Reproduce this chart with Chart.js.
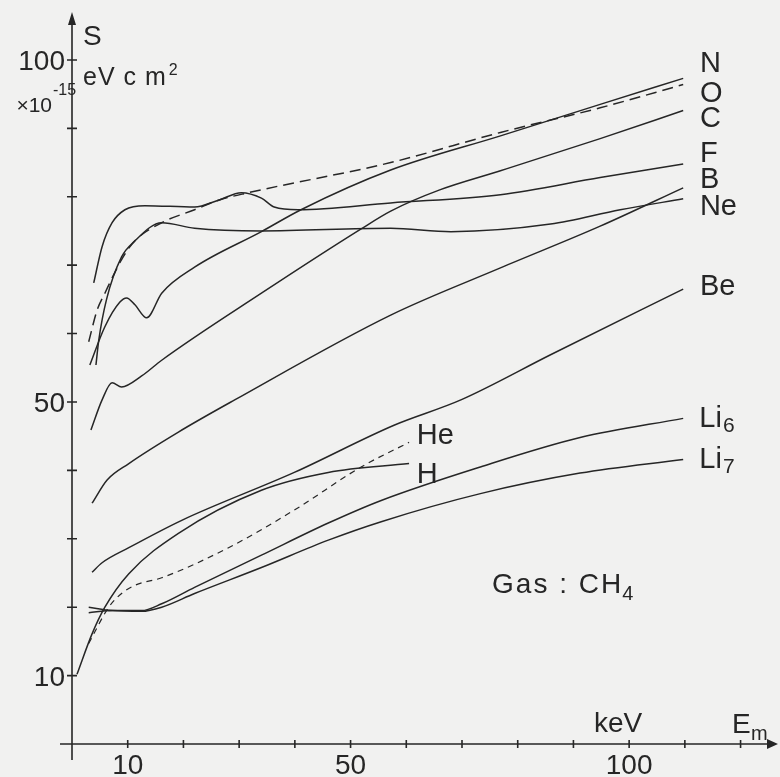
<!DOCTYPE html>
<html>
  <head>
    <meta charset="utf-8">
    <script src="https://cdn.jsdelivr.net/npm/chart.js"></script>
    <style>
      html, body {
        margin: 0;
        padding: 0;
        background: #f1f1f0;
      }
      #chart {
        display: block;
      }
    </style>
  </head>
  <body>
    <canvas id="chart" width="780" height="777"></canvas>

    <script>
      // tick labels
      var xTicks = [10, 50, 100];
      var yTicks = [10, 50, 100];

      // E_m in keV, S in 1e-15 eV cm2
      var nE = [3.2, 5.9, 8.6, 9.8, 11.3, 13.4, 16.1, 22.0, 34.0, 41.1, 57.2, 76.9, 94.8, 109.7];
      var nS = [55.4, 61.0, 64.6, 65.2, 64.2, 62.3, 65.9, 69.7, 74.9, 78.1, 83.9, 88.9, 93.5, 97.3];

      var oE = [3.0, 4.5, 5.9, 8.9, 11.1, 16.1, 22.0, 26.3, 31.7, 57.2, 76.9, 94.8, 109.7];
      var oS = [58.8, 63.4, 65.9, 70.8, 73.4, 76.2, 78.1, 79.5, 80.6, 85.0, 89.4, 93.0, 96.4];

      var cE = [3.4, 5.4, 7.2, 8.9, 12.5, 16.1, 34.0, 51.9, 57.2, 66.0, 76.9, 94.8, 109.7];
      var cS = [45.9, 50.3, 52.8, 52.2, 53.8, 56.1, 65.9, 75.3, 77.9, 81.0, 83.8, 88.5, 92.6];

      var fE = [3.9, 5.4, 7.2, 9.5, 13.1, 22.0, 26.3, 30.4, 34.0, 36.3, 40.6, 57.2, 76.9, 94.8, 109.7];
      var fS = [67.4, 72.7, 76.2, 78.1, 78.7, 78.5, 79.5, 80.6, 79.8, 78.5, 78.1, 79.1, 80.3, 82.8, 84.8];

      var bE = [3.6, 6.3, 10.2, 19.1, 29.2, 57.2, 76.9, 94.8, 109.7];
      var bS = [35.2, 38.6, 41.0, 45.6, 50.3, 62.7, 69.6, 75.7, 81.3];

      var neE = [4.3, 4.8, 6.2, 8.9, 11.1, 16.1, 22.0, 34.0, 57.2, 68.0, 85.9, 98.4, 109.7];
      var neS = [55.4, 59.0, 65.0, 71.2, 73.4, 76.2, 75.4, 75.0, 75.4, 74.9, 76.0, 78.1, 79.7];

      var beE = [3.6, 5.4, 10.2, 19.7, 39.9, 57.8, 69.8, 85.9, 109.7];
      var beS = [25.1, 26.5, 28.7, 32.7, 39.7, 46.6, 50.3, 56.9, 66.5];

      var liE = [3.0, 7.2, 12.5, 16.1, 22.0, 34.0, 46.0, 55.5, 73.3, 91.2, 109.7];
      var li6S = [19.2, 19.5, 19.5, 20.5, 22.9, 27.6, 32.3, 35.6, 40.5, 44.8, 47.6];
      var li7S = [20.0, 19.5, 19.4, 20.0, 22.0, 25.8, 29.8, 32.5, 36.6, 39.6, 41.6];

      var heE = [3.0, 6.6, 8.9, 11.3, 16.1, 28.1, 39.9, 51.9, 60.5];
      var heS = [14.7, 20.0, 22.0, 23.2, 24.3, 28.7, 34.2, 40.5, 44.1];

      var hE = [0.9, 3.6, 5.9, 10.2, 19.1, 34.0, 46.0, 60.5];
      var hS = [10.2, 16.1, 20.0, 24.9, 30.8, 37.1, 39.7, 41.0];

      var ink = '#262626';
      var face = '"Liberation Sans", Arial, sans-serif';

      function series(name, xs, ys, dash, width) {
        return {
          label: name,
          data: xs.map(function(x, i) { return { x: x, y: ys[i] }; }),
          borderColor: ink,
          borderWidth: width || 1.5,
          borderDash: dash || [],
          pointRadius: 0,
          fill: false,
          cubicInterpolationMode: 'monotone'
        };
      }

      function write(ctx, s, x, y, size, align) {
        ctx.font = size + 'px ' + face;
        ctx.textAlign = align || 'left';
        ctx.fillText(s, x, y);
        return ctx.measureText(s).width;
      }

      // axes with crossing ticks and arrow heads, plus all the lettering
      var paperPlugin = {
        id: 'paper',
        afterDraw: function(chart) {
          var ctx = chart.ctx;
          var xs = chart.scales.x, ys = chart.scales.y;
          var x0 = xs.getPixelForValue(0), y0 = ys.getPixelForValue(0);
          ctx.save();
          ctx.strokeStyle = ink;
          ctx.fillStyle = ink;
          ctx.lineWidth = 1.6;
          ctx.textBaseline = 'alphabetic';

          ctx.beginPath();
          ctx.moveTo(x0 - 12, y0);
          ctx.lineTo(xs.right, y0);
          ctx.moveTo(x0, y0 + 16);
          ctx.lineTo(x0, ys.top + 8);
          xs.ticks.forEach(function(t) {
            if (t.value <= 0) return;
            var p = xs.getPixelForValue(t.value);
            ctx.moveTo(p, y0 - 4);
            ctx.lineTo(p, y0 + 4);
          });
          ys.ticks.forEach(function(t) {
            if (t.value <= 0) return;
            var p = ys.getPixelForValue(t.value);
            ctx.moveTo(x0 - 5, p);
            ctx.lineTo(x0 + 5, p);
          });
          ctx.stroke();

          // arrow heads
          ctx.beginPath();
          ctx.moveTo(x0, ys.top + 2);
          ctx.lineTo(x0 - 4, ys.top + 15);
          ctx.lineTo(x0 + 4, ys.top + 15);
          ctx.closePath();
          ctx.moveTo(xs.right + 4, y0);
          ctx.lineTo(xs.right - 7, y0 - 5);
          ctx.lineTo(xs.right - 7, y0 + 5);
          ctx.closePath();
          ctx.fill();

          // tick labels
          xTicks.forEach(function(v) {
            write(ctx, String(v), xs.getPixelForValue(v), y0 + 30, 28, 'center');
          });
          yTicks.forEach(function(v) {
            write(ctx, String(v), x0 - 7, ys.getPixelForValue(v) + 10, 28, 'right');
          });

          // y axis title and unit
          write(ctx, 'S', x0 + 11, 45, 28);
          ctx.letterSpacing = '1px';
          var w = write(ctx, 'eV c m', x0 + 11, 85, 25);
          ctx.letterSpacing = '0px';
          write(ctx, '2', x0 + 13 + w, 75, 16);
          write(ctx, '\u00d710', x0 - 20, 112, 21, 'right');
          write(ctx, '-15', x0 - 19, 95, 16);

          // x axis title and unit
          write(ctx, 'keV', xs.getPixelForValue(100) + 13, y0 - 12, 28, 'right');
          write(ctx, 'E', xs.right - 42, y0 - 11, 28);
          write(ctx, 'm', xs.right - 23, y0 - 4, 20);

          // curve names, anchored at their baseline in data units
          var names = [
            ['N', 112.7, 98.2], ['O', 112.7, 93.8], ['C', 112.7, 90.2],
            ['F', 112.7, 85.1], ['B', 112.7, 81.3], ['Ne', 112.7, 77.3],
            ['Be', 112.7, 65.6], ['He', 61.9, 43.9], ['H', 61.9, 38.2]
          ];
          names.forEach(function(n) {
            write(ctx, n[0], xs.getPixelForValue(n[1]), ys.getPixelForValue(n[2]), 29);
          });
          var lx = xs.getPixelForValue(112.6);
          w = write(ctx, 'Li', lx, ys.getPixelForValue(46.3), 29);
          write(ctx, '6', lx + w + 1, ys.getPixelForValue(46.3) + 5, 21);
          w = write(ctx, 'Li', lx, ys.getPixelForValue(40.4), 29);
          write(ctx, '7', lx + w + 1, ys.getPixelForValue(40.4) + 5, 21);

          // gas label
          ctx.letterSpacing = '2px';
          w = write(ctx, 'Gas : CH', xs.getPixelForValue(75.4), ys.getPixelForValue(22.1), 28);
          ctx.letterSpacing = '0px';
          write(ctx, '4', xs.getPixelForValue(75.4) + w - 1, ys.getPixelForValue(22.1) + 7, 20);
          ctx.restore();
        }
      };

      new Chart(document.getElementById('chart').getContext('2d'), {
        type: 'line',
        data: {
          datasets: [
            series('N', nE, nS),
            series('O', oE, oS, [11, 6]),
            series('C', cE, cS),
            series('F', fE, fS),
            series('B', bE, bS),
            series('Ne', neE, neS),
            series('Be', beE, beS),
            series('Li6', liE, li6S),
            series('Li7', liE, li7S),
            series('He', heE, heS, [6, 5], 1.2),
            series('H', hE, hS)
          ]
        },
        options: {
          responsive: false,
          devicePixelRatio: 1,
          animation: false,
          layout: { padding: { left: 72, right: 6, top: 10, bottom: 33 } },
          plugins: { legend: { display: false }, tooltip: { enabled: false } },
          scales: {
            x: { type: 'linear', min: 0, max: 126, display: false, ticks: { stepSize: 10, includeBounds: false } },
            y: { type: 'linear', min: 0, max: 107.3, display: false, ticks: { stepSize: 10, includeBounds: false } }
          }
        },
        plugins: [paperPlugin]
      });
    </script>
  </body>
</html>
